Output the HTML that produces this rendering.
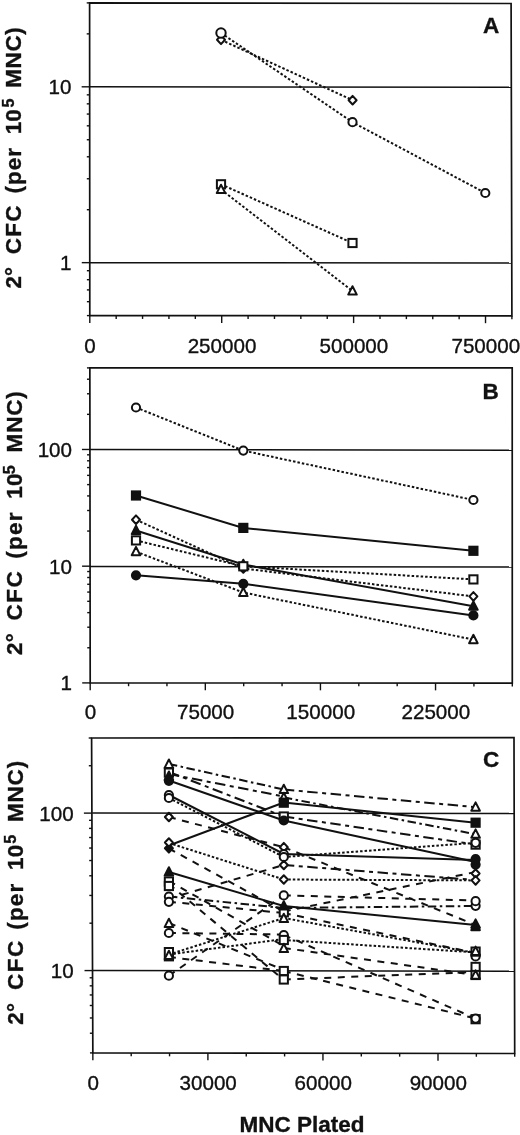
<!DOCTYPE html>
<html><head><meta charset="utf-8"><title>Figure</title>
<style>html,body{margin:0;padding:0;background:#fff;}svg{display:block;filter:grayscale(1);}text{font-family:"Liberation Sans",sans-serif;fill:#111;stroke:#111;stroke-width:0.35px;}</style></head><body>
<svg width="520" height="1135" viewBox="0 0 520 1135">
<rect width="520" height="1135" fill="#fff"/>
<g id="panelA">
<line x1="89.65" y1="86.81" x2="511.31" y2="87.32" stroke="#111" stroke-width="1.5"/>
<line x1="89.77" y1="262.66" x2="511.76" y2="263.01" stroke="#111" stroke-width="1.5"/>
<polygon points="89.6,2.9 511.1,3.5 511.9,315.9 89.8,315.6" fill="none" stroke="#111" stroke-width="1.7" stroke-linejoin="miter"/>
<line x1="86.9" y1="315.6" x2="89.8" y2="315.6" stroke="#111" stroke-width="1.4"/>
<line x1="86.89" y1="301.68" x2="89.79" y2="301.68" stroke="#111" stroke-width="1.4"/>
<line x1="86.88" y1="289.9" x2="89.78" y2="289.9" stroke="#111" stroke-width="1.4"/>
<line x1="86.88" y1="279.7" x2="89.78" y2="279.7" stroke="#111" stroke-width="1.4"/>
<line x1="86.87" y1="270.71" x2="89.77" y2="270.71" stroke="#111" stroke-width="1.4"/>
<line x1="81.77" y1="262.66" x2="89.77" y2="262.66" stroke="#111" stroke-width="1.4"/>
<line x1="86.83" y1="209.72" x2="89.73" y2="209.72" stroke="#111" stroke-width="1.4"/>
<line x1="86.81" y1="178.76" x2="89.71" y2="178.76" stroke="#111" stroke-width="1.4"/>
<line x1="86.8" y1="156.79" x2="89.7" y2="156.79" stroke="#111" stroke-width="1.4"/>
<line x1="86.79" y1="139.74" x2="89.69" y2="139.74" stroke="#111" stroke-width="1.4"/>
<line x1="86.78" y1="125.82" x2="89.68" y2="125.82" stroke="#111" stroke-width="1.4"/>
<line x1="86.77" y1="114.05" x2="89.67" y2="114.05" stroke="#111" stroke-width="1.4"/>
<line x1="86.76" y1="103.85" x2="89.66" y2="103.85" stroke="#111" stroke-width="1.4"/>
<line x1="86.76" y1="94.85" x2="89.66" y2="94.85" stroke="#111" stroke-width="1.4"/>
<line x1="81.65" y1="86.81" x2="89.65" y2="86.81" stroke="#111" stroke-width="1.4"/>
<line x1="86.72" y1="33.87" x2="89.62" y2="33.87" stroke="#111" stroke-width="1.4"/>
<line x1="86.7" y1="2.9" x2="89.6" y2="2.9" stroke="#111" stroke-width="1.4"/>
<line x1="89.8" y1="315.6" x2="89.8" y2="322.9" stroke="#111" stroke-width="1.4"/>
<line x1="116.18" y1="315.62" x2="116.18" y2="318.92" stroke="#111" stroke-width="1.4"/>
<line x1="142.56" y1="315.64" x2="142.56" y2="318.94" stroke="#111" stroke-width="1.4"/>
<line x1="168.94" y1="315.66" x2="168.94" y2="318.96" stroke="#111" stroke-width="1.4"/>
<line x1="195.32" y1="315.68" x2="195.32" y2="318.98" stroke="#111" stroke-width="1.4"/>
<line x1="221.71" y1="315.69" x2="221.71" y2="322.99" stroke="#111" stroke-width="1.4"/>
<line x1="248.09" y1="315.71" x2="248.09" y2="319.01" stroke="#111" stroke-width="1.4"/>
<line x1="274.47" y1="315.73" x2="274.47" y2="319.03" stroke="#111" stroke-width="1.4"/>
<line x1="300.85" y1="315.75" x2="300.85" y2="319.05" stroke="#111" stroke-width="1.4"/>
<line x1="327.23" y1="315.77" x2="327.23" y2="319.07" stroke="#111" stroke-width="1.4"/>
<line x1="353.61" y1="315.79" x2="353.61" y2="323.09" stroke="#111" stroke-width="1.4"/>
<line x1="379.99" y1="315.81" x2="379.99" y2="319.11" stroke="#111" stroke-width="1.4"/>
<line x1="406.38" y1="315.82" x2="406.38" y2="319.12" stroke="#111" stroke-width="1.4"/>
<line x1="432.76" y1="315.84" x2="432.76" y2="319.14" stroke="#111" stroke-width="1.4"/>
<line x1="459.14" y1="315.86" x2="459.14" y2="319.16" stroke="#111" stroke-width="1.4"/>
<line x1="485.52" y1="315.88" x2="485.52" y2="323.18" stroke="#111" stroke-width="1.4"/>
<line x1="511.9" y1="315.9" x2="511.9" y2="319.2" stroke="#111" stroke-width="1.4"/>
<text x="71.5" y="94.31" text-anchor="end" font-size="20.6">10</text>
<text x="71.5" y="270.16" text-anchor="end" font-size="20.6">1</text>
<text x="90.1" y="353" text-anchor="middle" font-size="20.6">0</text>
<text x="222.01" y="353" text-anchor="middle" font-size="20.6">250000</text>
<text x="353.91" y="353" text-anchor="middle" font-size="20.6">500000</text>
<text x="485.82" y="353" text-anchor="middle" font-size="20.6">750000</text>
<text x="483" y="33.3" font-size="22.5" font-weight="bold">A</text>
<text transform="translate(21.4 288.6) rotate(-90)" font-size="22.5" font-weight="bold">2°</text>
<text transform="translate(21.4 254.3) rotate(-90)" font-size="22.5" font-weight="bold" letter-spacing="1.3">CFC</text>
<text transform="translate(21.4 193.6) rotate(-90)" font-size="22.5" font-weight="bold" letter-spacing="1">(per</text>
<text transform="translate(21.4 134.2) rotate(-90)" font-size="22.5" font-weight="bold">10</text>
<text transform="translate(14.2 107.6) rotate(-90)" font-size="16" font-weight="bold">5</text>
<text transform="translate(21.4 87.8) rotate(-90)" font-size="22.5" font-weight="bold" letter-spacing="0.6">MNC)</text>
<polyline fill="none" stroke="#111" stroke-width="2.0" points="221,39.8 352.6,100.2" stroke-dasharray="2.5 2"/>
<polyline fill="none" stroke="#111" stroke-width="2.0" points="221,33 352.5,122.2 485.3,193" stroke-dasharray="2.5 2"/>
<polyline fill="none" stroke="#111" stroke-width="2.0" points="221,184.3 352.5,243" stroke-dasharray="2.5 2"/>
<polyline fill="none" stroke="#111" stroke-width="2.0" points="221,189.5 352.5,291" stroke-dasharray="2.5 2"/>
<path d="M221 35.5L225 39.8L221 44.1L217 39.8Z" fill="#fff" stroke="#111" stroke-width="2.0" stroke-linejoin="round"/>
<path d="M352.6 95.9L356.6 100.2L352.6 104.5L348.6 100.2Z" fill="#fff" stroke="#111" stroke-width="2.0" stroke-linejoin="round"/>
<circle cx="221" cy="33" r="4.7" fill="#fff" stroke="#111" stroke-width="2.0"/>
<circle cx="352.5" cy="122.2" r="4.1" fill="#fff" stroke="#111" stroke-width="2.0"/>
<circle cx="485.3" cy="193" r="4.1" fill="#fff" stroke="#111" stroke-width="2.0"/>
<rect x="216.9" y="180.2" width="8.2" height="8.2" fill="#fff" stroke="#111" stroke-width="2.0"/>
<rect x="348.4" y="238.9" width="8.2" height="8.2" fill="#fff" stroke="#111" stroke-width="2.0"/>
<path d="M221 184.7L225.3 193.1L216.7 193.1Z" fill="#fff" stroke="#111" stroke-width="2.0" stroke-linejoin="round"/>
<path d="M352.5 286.2L356.8 294.6L348.2 294.6Z" fill="#fff" stroke="#111" stroke-width="2.0" stroke-linejoin="round"/>
</g>
<g id="panelB">
<line x1="90.03" y1="449.4" x2="512.25" y2="450.2" stroke="#111" stroke-width="1.5"/>
<line x1="90.03" y1="566.6" x2="512.25" y2="567" stroke="#111" stroke-width="1.5"/>
<polygon points="89.85,367.9 512.2,367.9 512.3,683.1 90.2,682.9" fill="none" stroke="#111" stroke-width="1.7" stroke-linejoin="miter"/>
<line x1="82.2" y1="682.9" x2="90.2" y2="682.9" stroke="#111" stroke-width="1.4"/>
<line x1="87.26" y1="647.77" x2="90.16" y2="647.77" stroke="#111" stroke-width="1.4"/>
<line x1="87.24" y1="627.21" x2="90.14" y2="627.21" stroke="#111" stroke-width="1.4"/>
<line x1="87.22" y1="612.63" x2="90.12" y2="612.63" stroke="#111" stroke-width="1.4"/>
<line x1="87.21" y1="601.32" x2="90.11" y2="601.32" stroke="#111" stroke-width="1.4"/>
<line x1="87.2" y1="592.08" x2="90.1" y2="592.08" stroke="#111" stroke-width="1.4"/>
<line x1="87.19" y1="584.27" x2="90.09" y2="584.27" stroke="#111" stroke-width="1.4"/>
<line x1="87.18" y1="577.5" x2="90.08" y2="577.5" stroke="#111" stroke-width="1.4"/>
<line x1="87.18" y1="571.53" x2="90.08" y2="571.53" stroke="#111" stroke-width="1.4"/>
<line x1="82.07" y1="566.19" x2="90.07" y2="566.19" stroke="#111" stroke-width="1.4"/>
<line x1="87.13" y1="531.06" x2="90.03" y2="531.06" stroke="#111" stroke-width="1.4"/>
<line x1="87.11" y1="510.5" x2="90.01" y2="510.5" stroke="#111" stroke-width="1.4"/>
<line x1="87.09" y1="495.92" x2="89.99" y2="495.92" stroke="#111" stroke-width="1.4"/>
<line x1="87.08" y1="484.61" x2="89.98" y2="484.61" stroke="#111" stroke-width="1.4"/>
<line x1="87.07" y1="475.37" x2="89.97" y2="475.37" stroke="#111" stroke-width="1.4"/>
<line x1="87.06" y1="467.56" x2="89.96" y2="467.56" stroke="#111" stroke-width="1.4"/>
<line x1="87.05" y1="460.79" x2="89.95" y2="460.79" stroke="#111" stroke-width="1.4"/>
<line x1="87.05" y1="454.82" x2="89.95" y2="454.82" stroke="#111" stroke-width="1.4"/>
<line x1="81.94" y1="449.48" x2="89.94" y2="449.48" stroke="#111" stroke-width="1.4"/>
<line x1="87" y1="414.34" x2="89.9" y2="414.34" stroke="#111" stroke-width="1.4"/>
<line x1="86.98" y1="393.79" x2="89.88" y2="393.79" stroke="#111" stroke-width="1.4"/>
<line x1="86.96" y1="379.21" x2="89.86" y2="379.21" stroke="#111" stroke-width="1.4"/>
<line x1="86.95" y1="367.9" x2="89.85" y2="367.9" stroke="#111" stroke-width="1.4"/>
<line x1="90.2" y1="682.9" x2="90.2" y2="690.2" stroke="#111" stroke-width="1.4"/>
<line x1="128.57" y1="682.92" x2="128.57" y2="686.22" stroke="#111" stroke-width="1.4"/>
<line x1="166.95" y1="682.94" x2="166.95" y2="686.24" stroke="#111" stroke-width="1.4"/>
<line x1="205.32" y1="682.95" x2="205.32" y2="690.25" stroke="#111" stroke-width="1.4"/>
<line x1="243.69" y1="682.97" x2="243.69" y2="686.27" stroke="#111" stroke-width="1.4"/>
<line x1="282.06" y1="682.99" x2="282.06" y2="686.29" stroke="#111" stroke-width="1.4"/>
<line x1="320.44" y1="683.01" x2="320.44" y2="690.31" stroke="#111" stroke-width="1.4"/>
<line x1="358.81" y1="683.03" x2="358.81" y2="686.33" stroke="#111" stroke-width="1.4"/>
<line x1="397.18" y1="683.05" x2="397.18" y2="686.35" stroke="#111" stroke-width="1.4"/>
<line x1="435.55" y1="683.06" x2="435.55" y2="690.36" stroke="#111" stroke-width="1.4"/>
<line x1="473.93" y1="683.08" x2="473.93" y2="686.38" stroke="#111" stroke-width="1.4"/>
<line x1="512.3" y1="683.1" x2="512.3" y2="686.4" stroke="#111" stroke-width="1.4"/>
<text x="72" y="456.98" text-anchor="end" font-size="20.6">100</text>
<text x="72" y="573.69" text-anchor="end" font-size="20.6">10</text>
<text x="72" y="690.4" text-anchor="end" font-size="20.6">1</text>
<text x="90.5" y="719.3" text-anchor="middle" font-size="20.6">0</text>
<text x="205.62" y="719.3" text-anchor="middle" font-size="20.6">75000</text>
<text x="320.74" y="719.3" text-anchor="middle" font-size="20.6">150000</text>
<text x="435.85" y="719.3" text-anchor="middle" font-size="20.6">225000</text>
<text x="482.5" y="398.6" font-size="22.5" font-weight="bold">B</text>
<text transform="translate(21.8 655.06) rotate(-90)" font-size="22.5" font-weight="bold" letter-spacing="0.2">2°</text>
<text transform="translate(21.8 620.44) rotate(-90)" font-size="22.5" font-weight="bold" letter-spacing="1.5">CFC</text>
<text transform="translate(21.8 558.67) rotate(-90)" font-size="22.5" font-weight="bold" letter-spacing="1.2">(per</text>
<text transform="translate(21.8 498.82) rotate(-90)" font-size="22.5" font-weight="bold" letter-spacing="0.2">10</text>
<text transform="translate(14.6 474.37) rotate(-90)" font-size="16" font-weight="bold" letter-spacing="0.2">5</text>
<text transform="translate(21.8 452.39) rotate(-90)" font-size="22.5" font-weight="bold" letter-spacing="0.8">MNC)</text>
<polyline fill="none" stroke="#111" stroke-width="2.0" points="136,407.5 243.3,450.6 473.4,500" stroke-dasharray="2.5 2"/>
<polyline fill="none" stroke="#111" stroke-width="2.0" points="136,495.5 243.3,527.9 473.4,550.8"/>
<polyline fill="none" stroke="#111" stroke-width="2.0" points="136,519.7 243.3,568.5 473.4,596.4" stroke-dasharray="2.5 2"/>
<polyline fill="none" stroke="#111" stroke-width="2.0" points="136,530.5 243.3,564.5 473.4,606.2"/>
<polyline fill="none" stroke="#111" stroke-width="2.0" points="136,540.4 243.3,566.3 473.4,579.4" stroke-dasharray="2.5 2"/>
<polyline fill="none" stroke="#111" stroke-width="2.0" points="136,551.7 243.3,592.5 473.4,639.6" stroke-dasharray="2.5 2"/>
<polyline fill="none" stroke="#111" stroke-width="2.0" points="136,575.3 243.3,583.8 473.4,615.4"/>
<circle cx="136" cy="407.5" r="4.1" fill="#fff" stroke="#111" stroke-width="2.0"/>
<circle cx="243.3" cy="450.6" r="4.1" fill="#fff" stroke="#111" stroke-width="2.0"/>
<circle cx="473.4" cy="500" r="4.1" fill="#fff" stroke="#111" stroke-width="2.0"/>
<rect x="131.9" y="491.4" width="8.2" height="8.2" fill="#111" stroke="#111" stroke-width="2.0"/>
<rect x="239.2" y="523.8" width="8.2" height="8.2" fill="#111" stroke="#111" stroke-width="2.0"/>
<rect x="469.3" y="546.7" width="8.2" height="8.2" fill="#111" stroke="#111" stroke-width="2.0"/>
<path d="M136 515.4L140 519.7L136 524L132 519.7Z" fill="#fff" stroke="#111" stroke-width="2.0" stroke-linejoin="round"/>
<path d="M243.3 564.2L247.3 568.5L243.3 572.8L239.3 568.5Z" fill="#fff" stroke="#111" stroke-width="2.0" stroke-linejoin="round"/>
<path d="M473.4 592.1L477.4 596.4L473.4 600.7L469.4 596.4Z" fill="#fff" stroke="#111" stroke-width="2.0" stroke-linejoin="round"/>
<path d="M136 525.7L140.3 534.1L131.7 534.1Z" fill="#111" stroke="#111" stroke-width="2.0" stroke-linejoin="round"/>
<path d="M243.3 559.7L247.6 568.1L239 568.1Z" fill="#111" stroke="#111" stroke-width="2.0" stroke-linejoin="round"/>
<path d="M473.4 601.4L477.7 609.8L469.1 609.8Z" fill="#111" stroke="#111" stroke-width="2.0" stroke-linejoin="round"/>
<rect x="131.9" y="536.3" width="8.2" height="8.2" fill="#fff" stroke="#111" stroke-width="2.0"/>
<rect x="239.2" y="562.2" width="8.2" height="8.2" fill="#fff" stroke="#111" stroke-width="2.0"/>
<rect x="469.3" y="575.3" width="8.2" height="8.2" fill="#fff" stroke="#111" stroke-width="2.0"/>
<path d="M136 546.9L140.3 555.3L131.7 555.3Z" fill="#fff" stroke="#111" stroke-width="2.0" stroke-linejoin="round"/>
<path d="M243.3 587.7L247.6 596.1L239 596.1Z" fill="#fff" stroke="#111" stroke-width="2.0" stroke-linejoin="round"/>
<path d="M473.4 634.8L477.7 643.2L469.1 643.2Z" fill="#fff" stroke="#111" stroke-width="2.0" stroke-linejoin="round"/>
<circle cx="136" cy="575.3" r="4.1" fill="#111" stroke="#111" stroke-width="2.0"/>
<circle cx="243.3" cy="583.8" r="4.1" fill="#111" stroke="#111" stroke-width="2.0"/>
<circle cx="473.4" cy="615.4" r="4.1" fill="#111" stroke="#111" stroke-width="2.0"/>
</g>
<g id="panelC">
<line x1="92.22" y1="813" x2="514.35" y2="813.5" stroke="#111" stroke-width="1.5"/>
<line x1="92.22" y1="970.5" x2="514.35" y2="971.2" stroke="#111" stroke-width="1.5"/>
<polygon points="91.6,738 514,737.7 514.7,1053.5 92.85,1052.9" fill="none" stroke="#111" stroke-width="1.7" stroke-linejoin="miter"/>
<line x1="89.95" y1="1052.9" x2="92.85" y2="1052.9" stroke="#111" stroke-width="1.4"/>
<line x1="89.87" y1="1033.23" x2="92.77" y2="1033.23" stroke="#111" stroke-width="1.4"/>
<line x1="89.81" y1="1017.97" x2="92.71" y2="1017.97" stroke="#111" stroke-width="1.4"/>
<line x1="89.76" y1="1005.5" x2="92.66" y2="1005.5" stroke="#111" stroke-width="1.4"/>
<line x1="89.72" y1="994.96" x2="92.62" y2="994.96" stroke="#111" stroke-width="1.4"/>
<line x1="89.68" y1="985.83" x2="92.58" y2="985.83" stroke="#111" stroke-width="1.4"/>
<line x1="89.65" y1="977.78" x2="92.55" y2="977.78" stroke="#111" stroke-width="1.4"/>
<line x1="84.52" y1="970.57" x2="92.52" y2="970.57" stroke="#111" stroke-width="1.4"/>
<line x1="89.44" y1="923.18" x2="92.34" y2="923.18" stroke="#111" stroke-width="1.4"/>
<line x1="89.32" y1="895.45" x2="92.22" y2="895.45" stroke="#111" stroke-width="1.4"/>
<line x1="89.25" y1="875.78" x2="92.15" y2="875.78" stroke="#111" stroke-width="1.4"/>
<line x1="89.19" y1="860.52" x2="92.09" y2="860.52" stroke="#111" stroke-width="1.4"/>
<line x1="89.14" y1="848.05" x2="92.04" y2="848.05" stroke="#111" stroke-width="1.4"/>
<line x1="89.1" y1="837.51" x2="92" y2="837.51" stroke="#111" stroke-width="1.4"/>
<line x1="89.06" y1="828.38" x2="91.96" y2="828.38" stroke="#111" stroke-width="1.4"/>
<line x1="89.03" y1="820.33" x2="91.93" y2="820.33" stroke="#111" stroke-width="1.4"/>
<line x1="83.9" y1="813.12" x2="91.9" y2="813.12" stroke="#111" stroke-width="1.4"/>
<line x1="88.81" y1="765.73" x2="91.71" y2="765.73" stroke="#111" stroke-width="1.4"/>
<line x1="88.7" y1="738" x2="91.6" y2="738" stroke="#111" stroke-width="1.4"/>
<line x1="92.85" y1="1052.9" x2="92.85" y2="1060.2" stroke="#111" stroke-width="1.4"/>
<line x1="131.2" y1="1052.95" x2="131.2" y2="1056.25" stroke="#111" stroke-width="1.4"/>
<line x1="169.55" y1="1053.01" x2="169.55" y2="1056.31" stroke="#111" stroke-width="1.4"/>
<line x1="207.9" y1="1053.06" x2="207.9" y2="1060.36" stroke="#111" stroke-width="1.4"/>
<line x1="246.25" y1="1053.12" x2="246.25" y2="1056.42" stroke="#111" stroke-width="1.4"/>
<line x1="284.6" y1="1053.17" x2="284.6" y2="1056.47" stroke="#111" stroke-width="1.4"/>
<line x1="322.95" y1="1053.23" x2="322.95" y2="1060.53" stroke="#111" stroke-width="1.4"/>
<line x1="361.3" y1="1053.28" x2="361.3" y2="1056.58" stroke="#111" stroke-width="1.4"/>
<line x1="399.65" y1="1053.34" x2="399.65" y2="1056.64" stroke="#111" stroke-width="1.4"/>
<line x1="438" y1="1053.39" x2="438" y2="1060.69" stroke="#111" stroke-width="1.4"/>
<line x1="476.35" y1="1053.45" x2="476.35" y2="1056.75" stroke="#111" stroke-width="1.4"/>
<line x1="514.7" y1="1053.5" x2="514.7" y2="1056.8" stroke="#111" stroke-width="1.4"/>
<text x="73.7" y="820.62" text-anchor="end" font-size="20.6">100</text>
<text x="73.7" y="978.07" text-anchor="end" font-size="20.6">10</text>
<text x="93.15" y="1089.8" text-anchor="middle" font-size="20.6">0</text>
<text x="208.2" y="1089.8" text-anchor="middle" font-size="20.6">30000</text>
<text x="323.25" y="1089.8" text-anchor="middle" font-size="20.6">60000</text>
<text x="438.3" y="1089.8" text-anchor="middle" font-size="20.6">90000</text>
<text x="483" y="767.3" font-size="22.5" font-weight="bold">C</text>
<text transform="translate(22.9 1024.66) rotate(-90)" font-size="22.5" font-weight="bold" letter-spacing="0.2">2°</text>
<text transform="translate(22.9 990.04) rotate(-90)" font-size="22.5" font-weight="bold" letter-spacing="1.5">CFC</text>
<text transform="translate(22.9 929.77) rotate(-90)" font-size="22.5" font-weight="bold" letter-spacing="1.2">(per</text>
<text transform="translate(22.9 870.02) rotate(-90)" font-size="22.5" font-weight="bold" letter-spacing="0.2">10</text>
<text transform="translate(15.7 843.67) rotate(-90)" font-size="16" font-weight="bold" letter-spacing="0.2">5</text>
<text transform="translate(22.9 821.99) rotate(-90)" font-size="22.5" font-weight="bold" letter-spacing="0.8">MNC)</text>
<polyline fill="none" stroke="#111" stroke-width="2.0" points="168.9,764 283.8,789.5" stroke-dasharray="8.5 3.5 2.5 3.5"/>
<polyline fill="none" stroke="#111" stroke-width="2.0" points="168.9,774 283.8,796.5" stroke-dasharray="10.5 4.5 4 4.5"/>
<polyline fill="none" stroke="#111" stroke-width="2.0" points="168.9,772 283.8,816.5" stroke-dasharray="10.5 4.5 4 4.5"/>
<polyline fill="none" stroke="#111" stroke-width="2.0" points="168.9,780.5 283.8,820.5"/>
<polyline fill="none" stroke="#111" stroke-width="2.0" points="168.9,795 283.8,854"/>
<polyline fill="none" stroke="#111" stroke-width="2.0" points="168.9,798 283.8,857" stroke-dasharray="2.5 2"/>
<polyline fill="none" stroke="#111" stroke-width="2.0" points="168.9,845.5 283.8,802.5"/>
<polyline fill="none" stroke="#111" stroke-width="2.0" points="168.9,817 283.8,847.2" stroke-dasharray="7 6.5"/>
<polyline fill="none" stroke="#111" stroke-width="2.0" points="168.9,843 283.8,879.5" stroke-dasharray="2.5 2"/>
<polyline fill="none" stroke="#111" stroke-width="2.0" points="168.9,848.5 283.8,911.5" stroke-dasharray="7 6.5"/>
<polyline fill="none" stroke="#111" stroke-width="2.0" points="168.9,898.6 283.8,865" stroke-dasharray="7 6.5"/>
<polyline fill="none" stroke="#111" stroke-width="2.0" points="168.9,872 283.8,906"/>
<polyline fill="none" stroke="#111" stroke-width="2.0" points="168.9,896.5 283.8,908" stroke-dasharray="8.5 3.5 2.5 3.5"/>
<polyline fill="none" stroke="#111" stroke-width="2.0" points="168.9,901.8 283.8,913" stroke-dasharray="7 6.5"/>
<polyline fill="none" stroke="#111" stroke-width="2.0" points="168.9,881 283.8,946" stroke-dasharray="7 6.5"/>
<polyline fill="none" stroke="#111" stroke-width="2.0" points="168.9,884 283.8,980" stroke-dasharray="7 6.5"/>
<polyline fill="none" stroke="#111" stroke-width="2.0" points="168.9,933 283.8,934.5" stroke-dasharray="7 6.5"/>
<polyline fill="none" stroke="#111" stroke-width="2.0" points="168.9,954.5 283.8,918" stroke-dasharray="2.5 2"/>
<polyline fill="none" stroke="#111" stroke-width="2.0" points="168.9,954.5 283.8,939" stroke-dasharray="2.5 2"/>
<polyline fill="none" stroke="#111" stroke-width="2.0" points="168.9,975.7 283.8,895.4" stroke-dasharray="7 6.5"/>
<polyline fill="none" stroke="#111" stroke-width="2.0" points="168.9,923 283.8,970" stroke-dasharray="7 6.5"/>
<polyline fill="none" stroke="#111" stroke-width="2.0" points="168.9,957 283.8,971" stroke-dasharray="7 6.5"/>
<polyline fill="none" stroke="#111" stroke-width="2.0" points="283.8,789.5 475.6,807.2" stroke-dasharray="10.5 4.5 4 4.5"/>
<polyline fill="none" stroke="#111" stroke-width="2.0" points="283.8,802.5 475.6,822.7"/>
<polyline fill="none" stroke="#111" stroke-width="2.0" points="283.8,797.5 475.6,834.2" stroke-dasharray="8.5 3.5 2.5 3.5"/>
<polyline fill="none" stroke="#111" stroke-width="2.0" points="283.8,816.5 475.6,844.6" stroke-dasharray="10.5 4.5 4 4.5"/>
<polyline fill="none" stroke="#111" stroke-width="2.0" points="283.8,820.5 475.6,862"/>
<polyline fill="none" stroke="#111" stroke-width="2.0" points="283.8,857 475.6,842.8" stroke-dasharray="2.5 2"/>
<polyline fill="none" stroke="#111" stroke-width="2.0" points="283.8,854 475.6,860"/>
<polyline fill="none" stroke="#111" stroke-width="2.0" points="283.8,865 475.6,880" stroke-dasharray="10.5 4.5 4 4.5"/>
<polyline fill="none" stroke="#111" stroke-width="2.0" points="283.8,879.5 475.6,880.4" stroke-dasharray="2.5 2"/>
<polyline fill="none" stroke="#111" stroke-width="2.0" points="283.8,847.2 475.6,925" stroke-dasharray="7 6.5"/>
<polyline fill="none" stroke="#111" stroke-width="2.0" points="283.8,911.5 475.6,872" stroke-dasharray="7 6.5"/>
<polyline fill="none" stroke="#111" stroke-width="2.0" points="283.8,895.4 475.6,900.5" stroke-dasharray="7 6.5"/>
<polyline fill="none" stroke="#111" stroke-width="2.0" points="283.8,908 475.6,906" stroke-dasharray="8.5 3.5 2.5 3.5"/>
<polyline fill="none" stroke="#111" stroke-width="2.0" points="283.8,906 475.6,925"/>
<polyline fill="none" stroke="#111" stroke-width="2.0" points="283.8,918 475.6,953" stroke-dasharray="2.5 2"/>
<polyline fill="none" stroke="#111" stroke-width="2.0" points="283.8,913 475.6,953" stroke-dasharray="7 6.5"/>
<polyline fill="none" stroke="#111" stroke-width="2.0" points="283.8,940 475.6,952.4" stroke-dasharray="2.5 2"/>
<polyline fill="none" stroke="#111" stroke-width="2.0" points="283.8,948 475.6,975" stroke-dasharray="7 6.5"/>
<polyline fill="none" stroke="#111" stroke-width="2.0" points="283.8,935 475.6,1018.5" stroke-dasharray="7 6.5"/>
<polyline fill="none" stroke="#111" stroke-width="2.0" points="283.8,971 475.6,1018.5" stroke-dasharray="7 6.5"/>
<polyline fill="none" stroke="#111" stroke-width="2.0" points="283.8,979.5 475.6,972" stroke-dasharray="7 6.5"/>
<path d="M168.9 759.5L173.2 767.9L164.6 767.9Z" fill="#fff" stroke="#111" stroke-width="2.0" stroke-linejoin="round"/>
<rect x="164.8" y="768.5" width="8.2" height="8.2" fill="#fff" stroke="#111" stroke-width="2.0"/>
<path d="M168.9 771.5L173.2 779.9L164.6 779.9Z" fill="#111" stroke="#111" stroke-width="2.0" stroke-linejoin="round"/>
<circle cx="168.9" cy="780.8" r="4.1" fill="#111" stroke="#111" stroke-width="2.0"/>
<circle cx="168.9" cy="795" r="4.1" fill="#fff" stroke="#111" stroke-width="2.0"/>
<circle cx="168.9" cy="798" r="4.1" fill="#fff" stroke="#111" stroke-width="2.0"/>
<path d="M168.9 812.7L172.9 817L168.9 821.3L164.9 817Z" fill="#fff" stroke="#111" stroke-width="2.0" stroke-linejoin="round"/>
<path d="M168.9 844L172.9 848.3L168.9 852.6L164.9 848.3Z" fill="#111" stroke="#111" stroke-width="2.0" stroke-linejoin="round"/>
<path d="M168.9 838.2L172.9 842.5L168.9 846.8L164.9 842.5Z" fill="#fff" stroke="#111" stroke-width="2.0" stroke-linejoin="round"/>
<path d="M168.9 867.2L173.2 875.6L164.6 875.6Z" fill="#111" stroke="#111" stroke-width="2.0" stroke-linejoin="round"/>
<rect x="164.8" y="877.4" width="8.2" height="8.2" fill="#fff" stroke="#111" stroke-width="2.0"/>
<rect x="164.8" y="881.9" width="8.2" height="8.2" fill="#fff" stroke="#111" stroke-width="2.0"/>
<circle cx="168.9" cy="896.5" r="4.1" fill="#fff" stroke="#111" stroke-width="2.0"/>
<circle cx="168.9" cy="901.8" r="4.1" fill="#fff" stroke="#111" stroke-width="2.0"/>
<path d="M168.9 918.7L173.2 927.1L164.6 927.1Z" fill="#fff" stroke="#111" stroke-width="2.0" stroke-linejoin="round"/>
<circle cx="168.9" cy="933" r="4.1" fill="#fff" stroke="#111" stroke-width="2.0"/>
<rect x="164.8" y="948" width="8.2" height="12.4" fill="#fff" stroke="#111" stroke-width="2.0"/>
<path d="M168.9 950.7L173.2 959.1L164.6 959.1Z" fill="#fff" stroke="#111" stroke-width="2.0" stroke-linejoin="round"/>
<circle cx="168.9" cy="975.7" r="4.1" fill="#fff" stroke="#111" stroke-width="2.0"/>
<path d="M283.8 784.7L288.1 793.1L279.5 793.1Z" fill="#fff" stroke="#111" stroke-width="2.0" stroke-linejoin="round"/>
<path d="M283.8 792.7L288.1 801.1L279.5 801.1Z" fill="#fff" stroke="#111" stroke-width="2.0" stroke-linejoin="round"/>
<rect x="279.7" y="798.6" width="8.2" height="8.2" fill="#111" stroke="#111" stroke-width="2.0"/>
<rect x="279.7" y="812.4" width="8.2" height="8.2" fill="#fff" stroke="#111" stroke-width="2.0"/>
<circle cx="283.8" cy="820.5" r="4.1" fill="#111" stroke="#111" stroke-width="2.0"/>
<path d="M283.8 842.9L287.8 847.2L283.8 851.5L279.8 847.2Z" fill="#fff" stroke="#111" stroke-width="2.0" stroke-linejoin="round"/>
<circle cx="283.8" cy="854" r="4.1" fill="#fff" stroke="#111" stroke-width="2.0"/>
<circle cx="283.8" cy="857" r="4.1" fill="#fff" stroke="#111" stroke-width="2.0"/>
<path d="M283.8 860.7L287.8 865L283.8 869.3L279.8 865Z" fill="#fff" stroke="#111" stroke-width="2.0" stroke-linejoin="round"/>
<path d="M283.8 875.2L287.8 879.5L283.8 883.8L279.8 879.5Z" fill="#fff" stroke="#111" stroke-width="2.0" stroke-linejoin="round"/>
<circle cx="283.8" cy="895.4" r="4.1" fill="#fff" stroke="#111" stroke-width="2.0"/>
<rect x="279.7" y="908.2" width="8.2" height="8.2" fill="#fff" stroke="#111" stroke-width="2.0"/>
<path d="M283.8 913.7L288.1 922.1L279.5 922.1Z" fill="#fff" stroke="#111" stroke-width="2.0" stroke-linejoin="round"/>
<path d="M283.8 901.2L288.1 909.6L279.5 909.6Z" fill="#111" stroke="#111" stroke-width="2.0" stroke-linejoin="round"/>
<circle cx="283.8" cy="935" r="4.1" fill="#fff" stroke="#111" stroke-width="2.0"/>
<rect x="279.7" y="935.9" width="8.2" height="8.2" fill="#fff" stroke="#111" stroke-width="2.0"/>
<path d="M283.8 943.7L288.1 952.1L279.5 952.1Z" fill="#fff" stroke="#111" stroke-width="2.0" stroke-linejoin="round"/>
<rect x="279.7" y="966.9" width="8.2" height="8.2" fill="#fff" stroke="#111" stroke-width="2.0"/>
<rect x="279.7" y="975.4" width="8.2" height="8.2" fill="#fff" stroke="#111" stroke-width="2.0"/>
<path d="M475.6 802.4L479.9 810.8L471.3 810.8Z" fill="#fff" stroke="#111" stroke-width="2.0" stroke-linejoin="round"/>
<rect x="471.5" y="818.6" width="8.2" height="8.2" fill="#111" stroke="#111" stroke-width="2.0"/>
<path d="M475.6 829.4L479.9 837.8L471.3 837.8Z" fill="#fff" stroke="#111" stroke-width="2.0" stroke-linejoin="round"/>
<rect x="471.5" y="840.5" width="8.2" height="8.2" fill="#fff" stroke="#111" stroke-width="2.0"/>
<circle cx="475.6" cy="842.8" r="4.1" fill="#fff" stroke="#111" stroke-width="2.0"/>
<circle cx="475.6" cy="864.6" r="4.1" fill="#111" stroke="#111" stroke-width="2.0"/>
<circle cx="475.6" cy="859.2" r="4.1" fill="#111" stroke="#111" stroke-width="2.0"/>
<path d="M475.6 869.2L479.6 873.5L475.6 877.8L471.6 873.5Z" fill="#fff" stroke="#111" stroke-width="2.0" stroke-linejoin="round"/>
<path d="M475.6 876.1L479.6 880.4L475.6 884.7L471.6 880.4Z" fill="#fff" stroke="#111" stroke-width="2.0" stroke-linejoin="round"/>
<circle cx="475.6" cy="905.8" r="4.1" fill="#fff" stroke="#111" stroke-width="2.0"/>
<circle cx="475.6" cy="901.2" r="4.1" fill="#fff" stroke="#111" stroke-width="2.0"/>
<path d="M475.6 921.8L479.9 930.2L471.3 930.2Z" fill="#111" stroke="#111" stroke-width="2.0" stroke-linejoin="round"/>
<path d="M475.6 919.4L479.9 927.8L471.3 927.8Z" fill="#111" stroke="#111" stroke-width="2.0" stroke-linejoin="round"/>
<circle cx="475.6" cy="956.4" r="4.1" fill="#fff" stroke="#111" stroke-width="2.0"/>
<rect x="471.5" y="947.5" width="8.2" height="8.2" fill="#fff" stroke="#111" stroke-width="2.0"/>
<path d="M475.6 946.6L479.9 955L471.3 955Z" fill="#fff" stroke="#111" stroke-width="2.0" stroke-linejoin="round"/>
<rect x="471.5" y="962.8" width="8.2" height="8.2" fill="#fff" stroke="#111" stroke-width="2.0"/>
<rect x="471.5" y="970.9" width="8.2" height="8.2" fill="#fff" stroke="#111" stroke-width="2.0"/>
<path d="M475.6 970.4L479.9 978.8L471.3 978.8Z" fill="#fff" stroke="#111" stroke-width="2.0" stroke-linejoin="round"/>
<rect x="471.5" y="1015.1" width="8.2" height="8.2" fill="#fff" stroke="#111" stroke-width="2.0"/>
<circle cx="475.6" cy="1018.6" r="4.1" fill="#fff" stroke="#111" stroke-width="2.0"/>
</g>
<text x="302" y="1131.5" text-anchor="middle" font-size="22.5" font-weight="bold">MNC Plated</text>
</svg></body></html>
